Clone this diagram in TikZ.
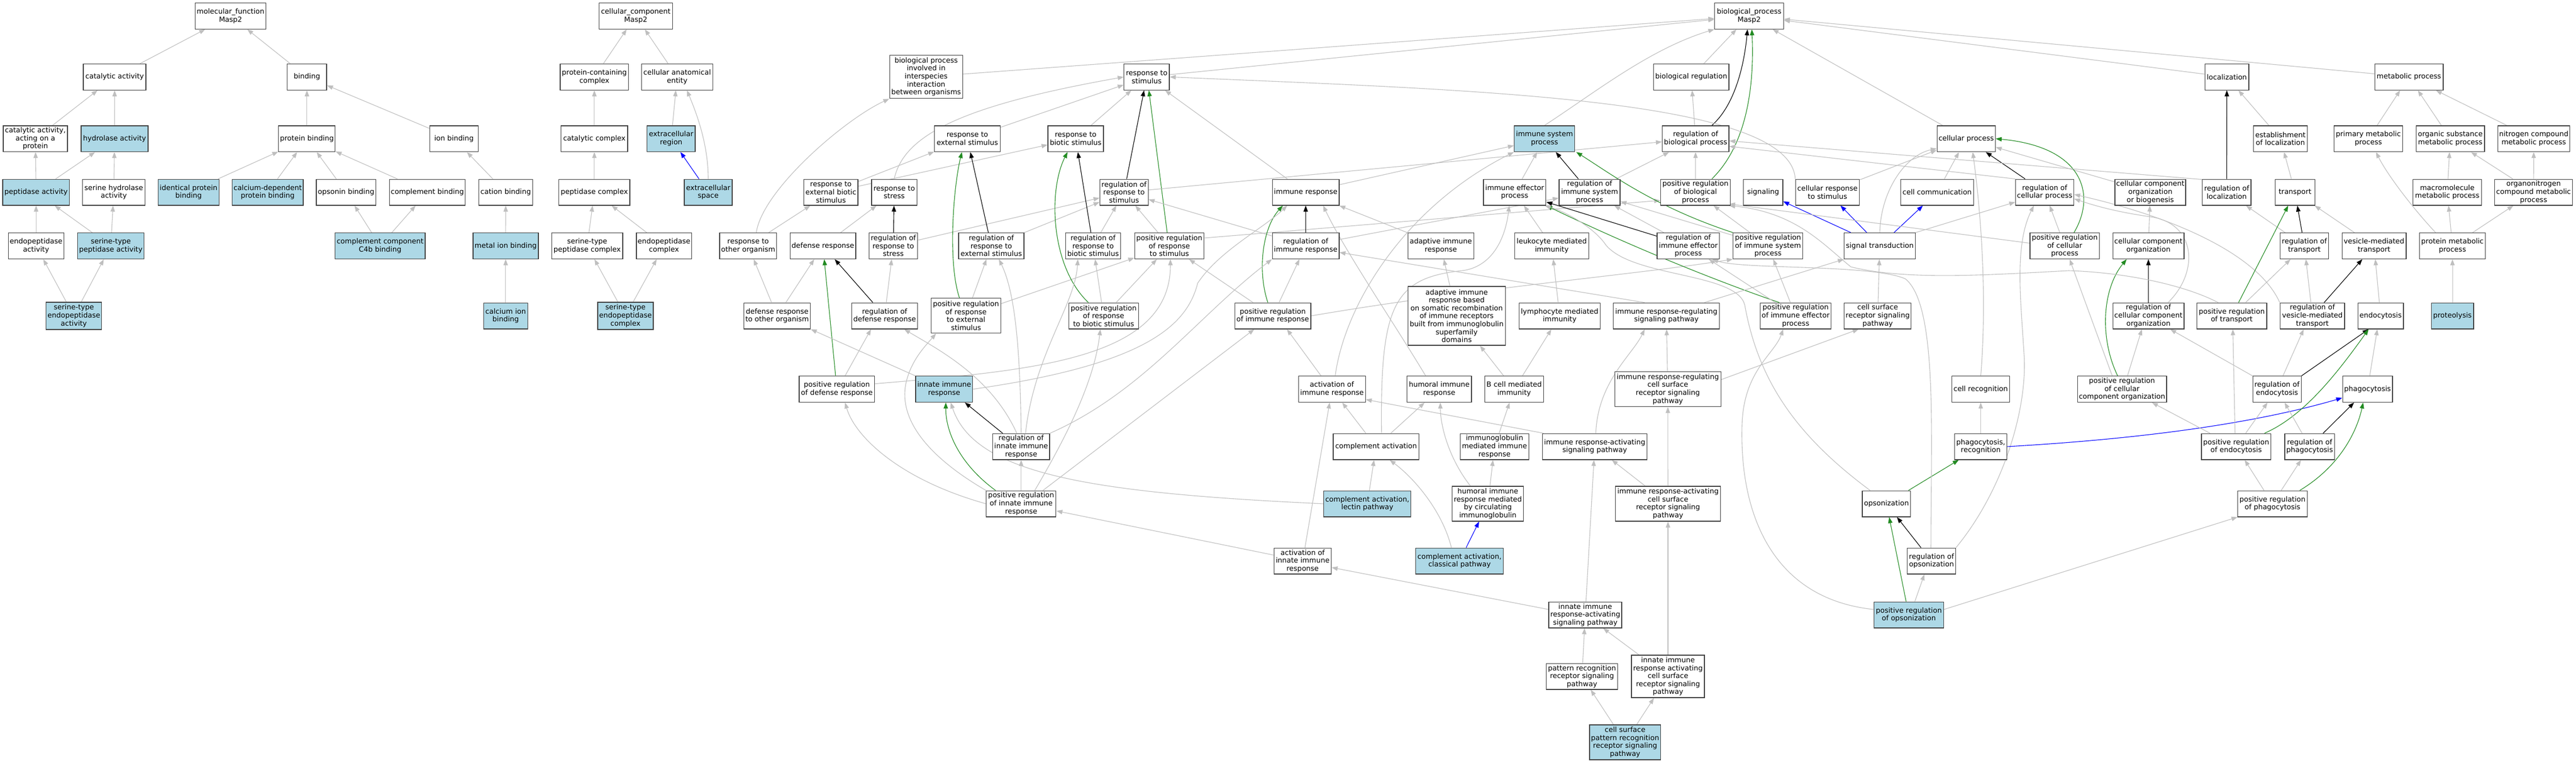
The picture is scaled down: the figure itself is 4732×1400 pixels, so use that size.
\documentclass[tikz,border=0pt]{standalone}
\usepackage{fontspec}
\setmainfont{DejaVu Sans}
\usetikzlibrary{arrows.meta,calc}
\pgfdeclarelayer{back}
\pgfdeclarelayer{edges}
\pgfsetlayers{back,edges,main}
\definecolor{egray}{RGB}{191,191,191}
\definecolor{egreen}{RGB}{34,139,34}
\definecolor{lblue}{RGB}{173,216,230}
\definecolor{bord}{RGB}{64,64,64}
\begin{document}
\begin{tikzpicture}[x=1pt,y=1pt,
  box/.style={draw=bord, line width=1.3pt, fill=white, inner sep=0pt, align=center,
    minimum height=47.7pt, font=\fontsize{13pt}{14.6pt}\selectfont},
  hl/.style={box, fill=lblue},
  wd/.style={minimum width=#1pt},
  ht/.style={minimum height=#1pt},
  isa/.style={draw=egray, line width=1.1pt, -{Triangle[length=11pt,width=8pt]}},
  reg/.style={isa, draw=black},
  preg/.style={isa, draw=egreen},
  partof/.style={isa, draw=blue}]
\begin{pgfonlayer}{back}
\fill[white] (0,0) rectangle (4732,-1400);
\end{pgfonlayer}
\useasboundingbox (0,0) rectangle (4732,-1400);
% ---------------- molecular function
\node[box,wd=130.6] (mf) at (423.5,-29.3) {molecular\_function\\Masp2};
\node[box,wd=115] (catact) at (210.6,-141.3) {catalytic activity};
\node[box,wd=72.4] (binding) at (563.8,-141.3) {binding};
\node[box,wd=118] (catprot) at (65,-254.7) {catalytic activity,\\acting on a\\protein};
\node[hl,wd=123] (hydro) at (210.5,-254.7) {hydrolase activity};
\node[box,wd=104] (protbind) at (563.8,-254.7) {protein binding};
\node[box,wd=89.5] (ionbind) at (834,-254.7) {ion binding};
\node[hl,wd=122.5] (pept) at (66.3,-353) {peptidase activity};
\node[box,wd=115] (serhyd) at (209,-353) {serine hydrolase\\activity};
\node[hl,wd=112.2] (identprot) at (346.4,-353) {identical protein\\binding};
\node[hl,wd=130.6] (caldep) at (491.8,-353) {calcium-dependent\\protein binding};
\node[box,wd=109.2] (opsbind) at (635.7,-353) {opsonin binding};
\node[box,wd=139.3] (compbind) at (785,-353) {complement binding};
\node[box,wd=99] (cationbind) at (929,-353) {cation binding};
\node[box,wd=102] (endopep) at (66.3,-451.5) {endopeptidase\\activity};
\node[hl,wd=122.4] (serpep) at (203.6,-451.5) {serine-type\\peptidase activity};
\node[hl,wd=165.8] (c4b) at (698.2,-451.5) {complement component\\C4b binding};
\node[hl,wd=119.9] (metalion) at (928.9,-451.5) {metal ion binding};
\node[hl,wd=102,ht=50] (serendo) at (135.7,-580) {serine-type\\endopeptidase\\activity};
\node[hl,wd=81.1] (calcion) at (928.9,-580) {calcium ion\\binding};
% ---------------- cellular component
\node[box,wd=134.7] (cc) at (1167.8,-29.3) {cellular\_component\\Masp2};
\node[box,wd=125.5] (protcomplex) at (1091.8,-141.3) {protein-containing\\complex};
\node[box,wd=130.6] (cae) at (1243.9,-141.3) {cellular anatomical\\entity};
\node[box,wd=122.4] (catcomplex) at (1091.8,-254.7) {catalytic complex};
\node[hl,wd=88.3] (ecr) at (1232.9,-254.7) {extracellular\\region};
\node[box,wd=130.6] (peptcomplex) at (1091.8,-353) {peptidase complex};
\node[hl,wd=87.8] (ecs) at (1301,-353) {extracellular\\space};
\node[box,wd=130.6] (serpepcomplex) at (1078.6,-451.5) {serine-type\\peptidase complex};
\node[box,wd=101.5] (endopepcomplex) at (1219.7,-451.5) {endopeptidase\\complex};
\node[hl,wd=102,ht=50] (serendocomplex) at (1149,-580) {serine-type\\endopeptidase\\complex};
% ---------------- biological process: rows A-C
\node[box,wd=126.5] (bp) at (3213,-29.3) {biological\_process\\Masp2};
\node[box,wd=134.2,ht=79.5] (bpiii) at (1701.3,-141) {biological process\\involved in\\interspecies\\interaction\\between organisms};
\node[box,wd=83.2] (rts) at (2106.4,-141.3) {response to\\stimulus};
\node[box,wd=138.8] (biolreg) at (3106.6,-141.3) {biological regulation};
\node[box,wd=80.8] (loc) at (4090.6,-141.3) {localization};
\node[box,wd=125.7] (metab) at (4425,-141.3) {metabolic process};
\node[box,wd=120.4] (rtes) at (1777,-254.7) {response to\\external stimulus};
\node[box,wd=102] (rtbs) at (1976,-254.7) {response to\\biotic stimulus};
\node[hl,wd=111.2] (isp) at (2837.2,-254.7) {immune system\\process};
\node[box,wd=122.4] (regbp) at (3114.7,-254.7) {regulation of\\biological process};
\node[box,wd=107] (cellproc) at (3611.8,-254.7) {cellular process};
\node[box,wd=98.7] (estloc) at (4189,-254.7) {establishment\\of localization};
\node[box,wd=125.7] (primmet) at (4350.5,-254.7) {primary metabolic\\process};
\node[box,wd=125.7] (orgsub) at (4501,-254.7) {organic substance\\metabolic process};
\node[box,wd=132.2] (nitro) at (4654.4,-254.7) {nitrogen compound\\metabolic process};
% row D
\node[box,wd=99.5] (rtebs) at (1526.3,-353) {response to\\external biotic\\stimulus};
\node[box,wd=83.2] (rtstress) at (1642.6,-353) {response to\\stress};
\node[box,wd=88.8] (rrs) at (2064.8,-353) {regulation of\\response to\\stimulus};
\node[box,wd=122.7] (immresp) at (2398.5,-353) {immune response};
\node[box,wd=114.8] (iep) at (2782.4,-353) {immune effector\\process};
\node[box,wd=112.2] (regisp) at (2920,-353) {regulation of\\immune system\\process};
\node[box,wd=128] (posbp) at (3114.5,-353) {positive regulation\\of biological\\process};
\node[box,wd=72.4] (signaling) at (3238.8,-353) {signaling};
\node[box,wd=117.3] (crts) at (3357,-353) {cellular response\\to stimulus};
\node[box,wd=134.2] (cellcomm) at (3558.4,-353) {cell communication};
\node[box,wd=107] (regcp) at (3756,-353) {regulation of\\cellular process};
\node[box,wd=130] (ccob) at (3950,-353) {cellular component\\organization\\or biogenesis};
\node[box,wd=89.3] (regloc) at (4090.3,-353) {regulation of\\localization};
\node[box,wd=72.8] (transport) at (4215.8,-353) {transport};
\node[box,wd=125.7] (macro) at (4495.5,-353) {macromolecule\\metabolic process};
\node[box,wd=142.6] (orgnitro) at (4654,-353) {organonitrogen\\compound metabolic\\process};
% row E
\node[box,wd=104.6] (rtoo) at (1374.3,-451.5) {response to\\other organism};
\node[box,wd=120.4] (defresp) at (1511.7,-451.5) {defense response};
\node[box,wd=89] (regrstress) at (1641,-451.5) {regulation of\\response to\\stress};
\node[box,wd=120] (regrtes) at (1821,-451.5) {regulation of\\response to\\external stimulus};
\node[box,wd=101.5] (regrtbs) at (2007.9,-451.5) {regulation of\\response to\\biotic stimulus};
\node[box,wd=127.5] (posrrs) at (2148,-451.5) {positive regulation\\of response\\to stimulus};
\node[box,wd=122.7] (regimm) at (2398.5,-451.5) {regulation of\\immune response};
\node[box,wd=121] (adaptive) at (2646.7,-451.5) {adaptive immune\\response};
\node[box,wd=135.7] (leuk) at (2850.5,-451.5) {leukocyte mediated\\immunity};
\node[box,wd=114.8] (regiep) at (3101.4,-451.5) {regulation of\\immune effector\\process};
\node[box,wd=128] (posisp) at (3247.7,-451.5) {positive regulation\\of immune system\\process};
\node[box,wd=130.6] (sigtrans) at (3453,-451.5) {signal transduction};
\node[box,wd=127.6] (poscp) at (3792.8,-451.5) {positive regulation\\of cellular\\process};
\node[box,wd=130.7] (cco) at (3946.5,-451.5) {cellular component\\organization};
\node[box,wd=89.3] (regtrans) at (4233,-451.5) {regulation of\\transport};
\node[box,wd=117.7] (vmt) at (4361,-451.5) {vesicle-mediated\\transport};
\node[box,wd=120.7] (protmet) at (4505,-451.5) {protein metabolic\\process};
% row F
\node[box,wd=122.4] (dfroo) at (1427.5,-580) {defense response\\to other organism};
\node[box,wd=121.4] (regdef) at (1625,-580) {regulation of\\defense response};
\node[box,wd=127.6,ht=64] (posrtes) at (1774.5,-579.7) {positive regulation\\of response\\to external\\stimulus};
\node[box,wd=128] (posrtbs) at (2027.3,-580) {positive regulation\\of response\\to biotic stimulus};
\node[box,wd=139.7] (posimm) at (2338,-580) {positive regulation\\of immune response};
\node[box,wd=179,ht=108] (adaptsom) at (2675.8,-580) {adaptive immune\\response based\\on somatic recombination\\of immune receptors\\built from immunoglobulin\\superfamily\\domains};
\node[box,wd=149.5] (lymph) at (2865,-580) {lymphocyte mediated\\immunity};
\node[box,wd=195.4] (irrsp) at (3061,-580) {immune response-regulating\\signaling pathway};
\node[box,wd=130.6] (posiep) at (3298.5,-580) {positive regulation\\of immune effector\\process};
\node[box,wd=123] (csrsp) at (3449.2,-580) {cell surface\\receptor signaling\\pathway};
\node[box,wd=130.7] (regcco) at (3946.5,-580) {regulation of\\cellular component\\organization};
\node[box,wd=128.7] (postrans) at (4099.6,-580) {positive regulation\\of transport};
\node[box,wd=118.7] (regvmt) at (4247.7,-580) {regulation of\\vesicle-mediated\\transport};
\node[box,wd=83.8] (endocyt) at (4373,-580) {endocytosis};
\node[hl,wd=77.8] (proteolysis) at (4505,-580) {proteolysis};
% row G
\node[box,wd=138.8] (posdef) at (1537.3,-714.6) {positive regulation\\of defense response};
\node[hl,wd=104.6] (innate) at (1734.4,-714.6) {innate immune\\response};
\node[box,wd=123] (actimm) at (2446.7,-714.6) {activation of\\immune response};
\node[box,wd=118.4] (humoral) at (2643.8,-714.6) {humoral immune\\response};
\node[box,wd=107.7] (bcell) at (2781.4,-714.6) {B cell mediated\\immunity};
\node[box,wd=195,ht=64] (irrcsrsp) at (3063.7,-714.6) {immune response-regulating\\cell surface\\receptor signaling\\pathway};
\node[box,wd=106.6] (cellrec) at (3638.5,-714.6) {cell recognition};
\node[box,wd=163.8] (poscco) at (3898,-714.6) {positive regulation\\of cellular\\component organization};
\node[box,wd=88.8] (regendo) at (4182.7,-714.6) {regulation of\\endocytosis};
\node[box,wd=91.7] (phago) at (4349,-714.6) {phagocytosis};
% row H
\node[box,wd=104.6] (reginnate) at (1875.8,-820) {regulation of\\innate immune\\response};
\node[box,wd=157.7] (compact) at (2527.8,-820) {complement activation};
\node[box,wd=126.5] (igmed) at (2745.4,-820) {immunoglobulin\\mediated immune\\response};
\node[box,wd=192.3] (irasp) at (2929.4,-820) {immune response-activating\\signaling pathway};
\node[box,wd=96.4] (phagorec) at (3638.5,-820) {phagocytosis,\\recognition};
\node[box,wd=127.5] (posendo) at (4107.7,-820) {positive regulation\\of endocytosis};
\node[box,wd=91.3] (regphago) at (4242.7,-820) {regulation of\\phagocytosis};
% row I
\node[box,wd=128] (posinnate) at (1875.8,-925) {positive regulation\\of innate immune\\response};
\node[hl,wd=160.2] (lectin) at (2511.7,-925) {complement activation,\\lectin pathway};
\node[box,wd=130.6,ht=64] (hicirc) at (2733.1,-925) {humoral immune\\response mediated\\by circulating\\immunoglobulin};
\node[box,wd=193.4,ht=64] (iracsrsp) at (3064,-925) {immune response-activating\\cell surface\\receptor signaling\\pathway};
\node[box,wd=88.8] (opson) at (3465.3,-925) {opsonization};
\node[box,wd=127.5] (posphago) at (4174.5,-925) {positive regulation\\of phagocytosis};
% row J-M
\node[box,wd=105.1] (actinnate) at (2392.9,-1030) {activation of\\innate immune\\response};
\node[hl,wd=161.2] (classical) at (2681.1,-1030) {complement activation,\\classical pathway};
\node[box,wd=88.8] (regopson) at (3548,-1030) {regulation of\\opsonization};
\node[box,wd=134.2] (iirasp) at (2912,-1129) {innate immune\\response-activating\\signaling pathway};
\node[hl,wd=128] (posopson) at (3506.4,-1129) {positive regulation\\of opsonization};
\node[box,wd=130.6] (prrsp) at (2906,-1242) {pattern recognition\\receptor signaling\\pathway};
\node[box,wd=134.2,ht=78] (iiracsrsp) at (3064,-1242) {innate immune\\response activating\\cell surface\\receptor signaling\\pathway};
\node[hl,wd=130.6,ht=64] (csprrsp) at (2985.2,-1363) {cell surface\\pattern recognition\\receptor signaling\\pathway};

\begin{pgfonlayer}{edges}
% MF
\draw[isa] (catact) -- (mf);
\draw[isa] (binding) -- (mf);
\draw[isa] (catprot) -- (catact);
\draw[isa] (hydro) -- (catact);
\draw[isa] (pept) -- (catprot);
\draw[isa] (pept) -- (hydro);
\draw[isa] (serhyd) -- (hydro);
\draw[isa] (endopep) -- (pept);
\draw[isa] (serpep) -- (pept);
\draw[isa] (serpep) -- (serhyd);
\draw[isa] (serendo) -- (endopep);
\draw[isa] (serendo) -- (serpep);
\draw[isa] (protbind) -- (binding);
\draw[isa] (ionbind) -- (binding);
\draw[isa] (identprot) -- (protbind);
\draw[isa] (caldep) -- (protbind);
\draw[isa] (opsbind) -- (protbind);
\draw[isa] (compbind) -- (protbind);
\draw[isa] (c4b) -- (opsbind);
\draw[isa] (c4b) -- (compbind);
\draw[isa] (cationbind) -- (ionbind);
\draw[isa] (metalion) -- (cationbind);
\draw[isa] (calcion) -- (metalion);
% CC
\draw[isa] (protcomplex) -- (cc);
\draw[isa] (cae) -- (cc);
\draw[isa] (catcomplex) -- (protcomplex);
\draw[isa] (ecr) -- (cae);
\draw[isa] (ecs.north) .. controls (1301,-260) and (1276,-200) .. ([xshift=18pt]cae.south);
\draw[partof] (ecs) -- (ecr);
\draw[isa] (peptcomplex) -- (catcomplex);
\draw[isa] (serpepcomplex) -- (peptcomplex);
\draw[isa] (endopepcomplex) -- (peptcomplex);
\draw[isa] (serendocomplex) -- (serpepcomplex);
\draw[isa] (serendocomplex) -- (endopepcomplex);
% BP top
\draw[isa] (bpiii) -- (bp);
\draw[isa] (rts) -- (bp);
\draw[isa] (isp.north) .. controls (2930,-170) and (3030,-90) .. (bp.south west);
\draw[isa] (biolreg) -- (bp);
\draw[reg] ([xshift=30pt]regbp.north) .. controls (3190,-190) and (3205,-110) .. ([xshift=-3pt]bp.south);
\draw[preg] ([xshift=30pt]posbp.north) .. controls (3215,-260) and (3222,-140) .. ([xshift=5pt]bp.south);
\draw[isa] (cellproc) -- (bp);
\draw[isa] (loc) -- (bp);
\draw[isa] (metab) -- (bp);
\draw[isa] (regbp) -- (biolreg);
\draw[isa] (posbp) -- (regbp);
% response to stimulus
\draw[isa] (rtes) -- (rts);
\draw[isa] (rtbs) -- (rts);
\draw[isa] (rtstress.north) .. controls (1660,-250) and (1760,-195) .. (rts.west);
\draw[reg] (rrs) -- (rts);
\draw[preg] ([xshift=-4pt]posrrs.north) -- ([xshift=4pt]rts.south);
\draw[isa] (immresp) -- (rts);
\draw[isa] (crts.north west) .. controls (3290,-180) and (2700,-165) .. (rts.east);
\draw[isa] (rtebs) -- (rtes);
\draw[isa] (rtebs) -- (rtbs);
\draw[isa] (rtoo) -- (rtebs);
\draw[isa] ([xshift=15pt]rtoo.north) .. controls (1400,-350) and (1550,-220) .. (bpiii.south west);
\draw[isa] (defresp) -- (rtstress);
\draw[isa] (dfroo) -- (defresp);
\draw[isa] (dfroo) -- (rtoo);
\draw[reg] (regrstress) -- (rtstress);
\draw[isa] (regrstress) -- (rrs);
\draw[reg] (regrtes) -- (rtes);
\draw[isa] (regrtes) -- (rrs);
\draw[reg] (regrtbs) -- (rtbs);
\draw[isa] (regrtbs) -- (rrs);
\draw[isa] (posrrs) -- (rrs);
\draw[isa] ([yshift=-10pt]posrrs.north east) -- ([yshift=-15pt]posbp.west);
\draw[isa] (rrs) -- (regbp);
\draw[reg] (regdef) -- (defresp);
\draw[isa] (regdef) -- (regrstress);
\draw[isa] ([xshift=15pt]posdef.north) -- ([xshift=-25pt]regdef.south);
\draw[preg] (posdef) -- (defresp);
\draw[isa] ([yshift=10pt]posdef.east) .. controls (1900,-680) and (2150,-660) .. ([xshift=2pt]posrrs.south);
\draw[isa] (posrtes) -- (regrtes);
\draw[preg] ([xshift=-12pt]posrtes.north) .. controls (1740,-480) and (1752,-340) .. ([xshift=-10pt]rtes.south);
\draw[isa] (posrtes) -- (posrrs);
\draw[isa] (posrtbs) -- (regrtbs);
\draw[preg] ([xshift=-28pt]posrtbs.north) .. controls (1930,-490) and (1925,-350) .. ([xshift=-15pt]rtbs.south);
\draw[isa] (posrtbs) -- (posrrs);
% immune
\draw[isa] (immresp) -- (isp);
\draw[reg] (regimm) -- (immresp);
\draw[isa] (regimm) -- (rrs);
\draw[isa] (regimm) -- (regisp);
\draw[isa] (posimm) -- (regimm);
\draw[preg] ([xshift=-9pt]posimm.north) .. controls (2310,-500) and (2318,-420) .. ([xshift=-42pt]immresp.south);
\draw[isa] (posimm) -- (posrrs);
\draw[isa] (posimm.east) .. controls (2700,-530) and (3000,-505) .. (posisp.south west);
\draw[isa] (adaptive) -- (immresp);
\draw[isa] (adaptsom) -- (adaptive);
\draw[isa] ([xshift=-25pt]humoral.north) .. controls (2565,-600) and (2470,-460) .. ([xshift=32pt]immresp.south);
\draw[isa] (innate.east) .. controls (2100,-670) and (2180,-600) .. (2200,-520) .. controls (2240,-460) and (2320,-420) .. ([xshift=-34pt]immresp.south);
\draw[isa] (innate.north west) -- (dfroo.south east);
\draw[reg] ([xshift=-34pt]reginnate.north) -- ([xshift=38pt]innate.south);
\draw[isa] ([xshift=-8pt]reginnate.north) .. controls (1820,-690) and (1720,-640) .. ([xshift=36pt]regdef.south);
\draw[isa] (reginnate.north) .. controls (1874,-650) and (1866,-540) .. ([xshift=14pt]regrtes.south);
\draw[isa] ([xshift=8pt]reginnate.north) .. controls (1900,-650) and (1975,-560) .. ([xshift=-28pt]regrtbs.south);
\draw[isa] (reginnate.north east) .. controls (2100,-720) and (2200,-580) .. (regimm.south west);
\draw[preg] ([xshift=-47pt]posinnate.north) .. controls (1760,-850) and (1737,-790) .. ([xshift=3pt]innate.south);
\draw[isa] (posinnate) -- (reginnate);
\draw[isa] (posinnate.west) .. controls (1650,-880) and (1570,-800) .. ([xshift=15pt]posdef.south);
\draw[isa] (posinnate.north west) .. controls (1690,-830) and (1650,-760) .. (1665,-700) .. controls (1675,-660) and (1700,-635) .. ([xshift=-55pt]posrtes.south);
\draw[isa] ([xshift=25pt]posinnate.north) .. controls (1960,-800) and (2010,-700) .. ([xshift=-6pt]posrtbs.south);
\draw[isa] ([xshift=40pt]posinnate.north) -- ([xshift=-34pt]posimm.south);
\draw[isa] (actinnate) -- (posinnate);
\draw[isa] (actinnate) -- (actimm);
\draw[isa] ([xshift=-20pt]actimm.north) -- ([xshift=26pt]posimm.south);
\draw[isa] ([xshift=6pt]actimm.north) .. controls (2470,-560) and (2580,-380) .. (isp.south west);
\draw[isa] (compact) -- (actimm);
\draw[isa] (compact) -- (humoral);
\draw[isa] ([xshift=10pt]compact.north) .. controls (2535,-560) and (2560,-510) .. (2686,-497) .. controls (2740,-490) and (2765,-440) .. ([xshift=-10pt]iep.south);
\draw[isa] (lectin) -- (compact);
\draw[isa] (lectin.west) .. controls (2000,-905) and (1790,-870) .. ([xshift=12pt]innate.south);
\draw[isa] ([xshift=-15pt]classical.north) .. controls (2650,-940) and (2600,-880) .. ([xshift=25pt]compact.south);
\draw[partof] (classical) -- (hicirc);
\draw[isa] (hicirc) -- (igmed);
\draw[isa] ([xshift=-32pt]hicirc.north) .. controls (2660,-840) and (2646,-780) .. ([xshift=2pt]humoral.south);
\draw[isa] (igmed) -- (bcell);
\draw[isa] (bcell) -- (lymph);
\draw[isa] (bcell) -- (adaptsom);
\draw[isa] (lymph) -- (leuk);
\draw[isa] (leuk) -- (iep);
\draw[isa] (iep) -- (isp);
\draw[reg] (regisp) -- (isp);
\draw[isa] (regisp) -- (regbp);
\draw[reg] (regiep) -- (iep);
\draw[isa] (regiep) -- (regisp);
\draw[preg] ([xshift=-30pt]posiep.north) .. controls (3150,-515) and (2990,-450) .. (iep.south east);
\draw[isa] (posiep) -- (regiep);
\draw[isa] (posiep) -- (posisp);
\draw[preg] (posisp.north west) .. controls (3040,-380) and (2960,-320) .. ([xshift=2pt]isp.south east);
\draw[isa] (posisp) -- (regisp);
\draw[isa] (posisp) -- (posbp);
\draw[isa] ([xshift=-40pt]irrsp.north) -- ([yshift=-12pt]regimm.east);
\draw[isa] ([xshift=70pt]irrsp.north) -- (sigtrans.south west);
\draw[isa] (irrcsrsp) -- (irrsp);
\draw[isa] ([yshift=-15pt]irrcsrsp.north east) -- ([xshift=-35pt]csrsp.south);
\draw[isa] ([xshift=2pt]irasp.north) .. controls (2935,-700) and (3000,-650) .. ([xshift=-40pt]irrsp.south);
\draw[isa] ([xshift=3pt]irasp.north west) -- ([yshift=-19pt]actimm.east);
\draw[isa] (iracsrsp) -- (irasp);
\draw[isa] (iracsrsp) -- (irrcsrsp);
\draw[isa] (iirasp) -- (irasp);
\draw[isa] ([yshift=10pt]iirasp.west) -- ([yshift=-12pt]actinnate.east);
\draw[isa] (prrsp) -- (iirasp);
\draw[isa] (iiracsrsp) -- (iirasp);
\draw[isa] (iiracsrsp) -- (iracsrsp);
\draw[isa] (csprrsp) -- (prrsp);
\draw[isa] (csprrsp) -- (iiracsrsp);
% opsonization
\draw[preg] (opson) -- (phagorec);
\draw[isa] ([xshift=-30pt]opson.north) .. controls (3300,-800) and (3230,-700) .. (3205,-560) .. controls (3190,-500) and (3000,-510) .. (2950,-450) .. controls (2930,-420) and (2880,-390) .. ([xshift=55pt]iep.south);
\draw[reg] (regopson) -- (opson);
\draw[isa] ([xshift=-1pt]regopson.north) .. controls (3547,-800) and (3560,-560) .. (3500,-512) .. controls (3440,-485) and (3200,-495) .. ([xshift=44pt]regiep.south);
\draw[isa] (regopson.north east) .. controls (3680,-900) and (3725,-750) .. (3718,-650) .. controls (3712,-550) and (3700,-450) .. ([xshift=-20pt]regcp.south);
\draw[preg] ([xshift=-5pt]posopson.north) -- ([xshift=5pt]opson.south);
\draw[isa] ([xshift=11pt]posopson.north) -- ([xshift=-13pt]regopson.south);
\draw[isa] ([yshift=10pt]posopson.west) .. controls (3260,-1100) and (3195,-950) .. (3200,-780) .. controls (3203,-680) and (3260,-650) .. ([xshift=-23pt]posiep.south);
\draw[isa] ([yshift=10pt]posopson.east) -- (posphago.south west);
% cellular
\draw[partof] (sigtrans) -- (signaling);
\draw[partof] (sigtrans) -- (crts);
\draw[partof] (sigtrans) -- (cellcomm);
\draw[isa] (sigtrans.north) .. controls (3455,-350) and (3500,-285) .. ([yshift=-18pt]cellproc.west);
\draw[isa] (sigtrans.north east) -- ([yshift=-18pt]regcp.west);
\draw[isa] (csrsp) -- (sigtrans);
\draw[isa] (crts) -- (cellproc);
\draw[isa] (cellcomm) -- (cellproc);
\draw[isa] (ccob) -- (cellproc);
\draw[isa] (cco) -- (ccob);
\draw[reg] (regcp) -- (cellproc);
\draw[isa] (regcp.north west) -- ([yshift=-14pt]regbp.east);
\draw[isa] (poscp) -- (regcp);
\draw[preg] ([xshift=17pt]poscp.north) .. controls (3850,-360) and (3830,-270) .. (cellproc.east);
\draw[isa] ([yshift=5pt]poscp.west) -- ([xshift=-3pt,yshift=3pt]posbp.south east);
\draw[isa] ([xshift=-30pt]regcco.north east) .. controls (4040,-500) and (4035,-410) .. (3950,-398) .. controls (3880,-388) and (3840,-375) .. ([yshift=-12pt]regcp.east);
\draw[isa] (regvmt.north west) .. controls (4150,-470) and (4000,-400) .. ([yshift=-4pt]regcp.east);
\draw[reg] (regcco) -- (cco);
\draw[preg] ([xshift=-8pt]poscco.north) .. controls (3856,-620) and (3862,-530) .. ([xshift=-40pt]cco.south);
\draw[isa] ([xshift=10pt]poscco.north) -- ([xshift=-12pt]regcco.south);
\draw[isa] ([xshift=-18pt]poscco.north) -- ([xshift=9pt]poscp.south);
\draw[isa] (cellrec.north) .. controls (3650,-550) and (3640,-400) .. ([xshift=12pt]cellproc.south);
\draw[isa] (phagorec) -- (cellrec);
\draw[partof] (phagorec.east) .. controls (3950,-805) and (4150,-775) .. ([yshift=-16pt]phago.west);
\draw[isa] ([xshift=4pt]phago.north) -- ([xshift=-6pt]endocyt.south);
\draw[reg] (regendo.north east) -- ([xshift=-22pt]endocyt.south);
\draw[isa] ([xshift=11pt]regendo.north) -- ([xshift=-16pt]regvmt.south);
\draw[isa] (regendo.north west) -- ([xshift=-26pt]regcco.south east);
\draw[isa] (posendo) -- (regendo);
\draw[preg] ([xshift=52pt]posendo.north) .. controls (4230,-765) and (4290,-690) .. ([xshift=-22pt]endocyt.south);
\draw[isa] ([xshift=-2pt]posendo.north) -- ([xshift=2pt]postrans.south);
\draw[isa] ([xshift=-48pt]posendo.north) -- ([xshift=55pt]poscco.south);
\draw[isa] (regphago) -- (regendo);
\draw[reg] (regphago) -- (phago);
\draw[isa] (posphago) -- (posendo);
\draw[isa] (posphago) -- (regphago);
\draw[preg] ([xshift=50pt]posphago.north) .. controls (4300,-855) and (4330,-790) .. ([xshift=-8pt]phago.south);
% transport / localization / metabolism
\draw[reg] (regtrans) -- (transport);
\draw[isa] (regtrans) -- (regloc);
\draw[preg] (postrans) -- (transport);
\draw[isa] (postrans) -- (regtrans);
\draw[isa] ([xshift=-25pt]postrans.north) .. controls (4010,-522) and (3900,-500) .. (3800,-497) .. controls (3650,-505) and (3500,-515) .. (3400,-490) .. controls (3350,-450) and (3300,-390) .. ([xshift=-3pt]posbp.south east);
\draw[isa] (regvmt) -- (regtrans);
\draw[reg] (regvmt) -- (vmt);
\draw[isa] (vmt) -- (transport);
\draw[isa] (endocyt) -- (vmt);
\draw[isa] (transport) -- (estloc);
\draw[isa] (estloc) -- (loc);
\draw[reg] (regloc) -- (loc);
\draw[isa] ([yshift=-1pt]regloc.north west) -- ([yshift=-4pt]regbp.east);
\draw[isa] ([xshift=-31pt]protmet.north) .. controls (4430,-380) and (4385,-320) .. ([xshift=14pt]primmet.south);
\draw[isa] (protmet) -- (macro);
\draw[isa] (protmet) -- (orgnitro);
\draw[isa] (macro) -- (orgsub);
\draw[isa] (orgnitro) -- (orgsub);
\draw[isa] (orgnitro) -- (nitro);
\draw[isa] (primmet) -- (metab);
\draw[isa] (orgsub) -- (metab);
\draw[isa] (nitro) -- (metab);
\draw[isa] (proteolysis) -- (protmet);
\end{pgfonlayer}
\end{tikzpicture}
\end{document}
